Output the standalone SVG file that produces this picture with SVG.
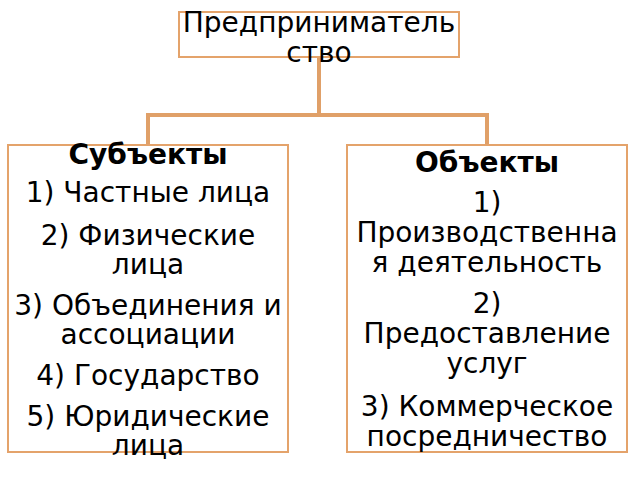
<svg xmlns="http://www.w3.org/2000/svg" width="640" height="480" viewBox="0 0 640 480">
<style>
.box{fill:#fff;stroke:#e4a36b;stroke-width:2}
.t{font-family:"DejaVu Sans",sans-serif;font-size:28px;fill:#000;text-anchor:middle}
.b{font-weight:bold;font-size:28px}
.c{fill:none;stroke:#e0a068;stroke-width:4;stroke-linejoin:miter}
</style>
<rect width="640" height="480" fill="#fff"/>
<g id="connectors">
<path class="c" d="M319 57V115M148 145V115H487V145"/>
</g>
<g id="top">
<rect class="box" x="179" y="12" width="280" height="45"/>
<text class="t" x="319" y="32">Предприниматель</text>
<text class="t" x="319" y="62">ство</text>
</g>
<g id="subjects">
<rect class="box" x="8" y="145" width="280" height="307"/>
<text class="t b" x="148" y="164">Субъекты</text>
<text class="t" x="148" y="202">1) Частные лица</text>
<text class="t" x="148" y="245">2) Физические</text>
<text class="t" x="148" y="274">лица</text>
<text class="t" x="148" y="315">3) Объединения и</text>
<text class="t" x="148" y="344">ассоциации</text>
<text class="t" x="148" y="385">4) Государство</text>
<text class="t" x="148" y="426">5) Юридические</text>
<text class="t" x="148" y="455">лица</text>
</g>
<g id="objects">
<rect class="box" x="347" y="145" width="280" height="307"/>
<text class="t b" x="487" y="172">Объекты</text>
<text class="t" x="487" y="212">1)</text>
<text class="t" x="487" y="242">Производственна</text>
<text class="t" x="487" y="272">я деятельность</text>
<text class="t" x="487" y="313">2)</text>
<text class="t" x="487" y="343">Предоставление</text>
<text class="t" x="487" y="373">услуг</text>
<text class="t" x="487" y="416">3) Коммерческое</text>
<text class="t" x="487" y="446">посредничество</text>
</g>
</svg>
